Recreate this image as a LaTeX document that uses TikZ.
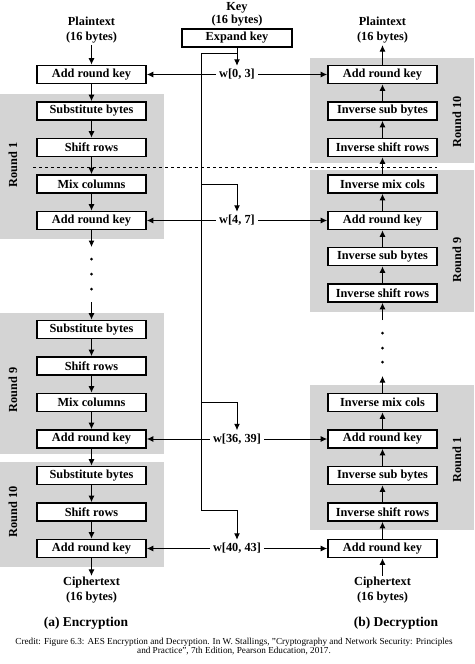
\documentclass[tikz,border=0pt]{standalone}
\usepackage{fontspec}
\setmainfont{Liberation Serif}
\usetikzlibrary{arrows.meta}

\begin{document}
\begin{tikzpicture}[x=1pt,y=-1pt,line width=1pt,>={Latex[length=6.5pt,width=6pt]}]
    \tikzstyle{block}=[draw=black,fill=white,line width=1.6pt,minimum width=109pt,minimum height=18pt,inner sep=0pt,font=\bfseries\fontsize{12.3}{14}\selectfont]
    \tikzstyle{txt}=[align=center,inner sep=1pt,font=\bfseries\fontsize{12.3}{15}\selectfont]
    \tikzstyle{roundbg}=[fill=black!17]
    \tikzstyle{roundlbl}=[rotate=90,font=\bfseries\fontsize{12.3}{14}\selectfont]
    \useasboundingbox (0,0) rectangle (474,664);

    % grey round areas
    \foreach \x/\top/\bot in {0/94/239, 0/313/454, 0/462/567, 310/58/163, 310/170/312, 310/385/530}
        \fill[roundbg] (\x,\top) rectangle (\x+164,\bot);
    \foreach \x/\y/\name in {13/165/Round 1, 13/390/Round 9, 13/512/Round 10, 457/122/Round 10, 457/260/Round 9, 457/460/Round 1}
        \node[roundlbl] at (\x,\y) {\name};

    \draw[dashed,line width=0.8pt] (33,167) -- (437,167);

    % encryption
    \foreach \num/\y/\text in {1/74.5/Add round key, 2/111/Substitute bytes, 3/147.5/Shift rows,
            4/184/Mix columns, 5/220.5/Add round key, 6/329.5/Substitute bytes, 7/366/Shift rows,
            8/402.5/Mix columns, 9/439/Add round key, 10/475.5/Substitute bytes, 11/512/Shift rows,
            12/548.5/Add round key}
        \node[block] (E-\num) at (91.5,\y) {\text};

    % decryption
    \foreach \num/\y/\text in {1/74.5/Add round key, 2/111/Inverse sub bytes, 3/147.5/Inverse shift rows,
            4/184/Inverse mix cols, 5/220.5/Add round key, 6/256.5/Inverse sub bytes, 7/293/Inverse shift rows,
            8/402.5/Inverse mix cols, 9/439/Add round key, 10/475.5/Inverse sub bytes, 11/512/Inverse shift rows,
            12/548.5/Add round key}
        \node[block] (D-\num) at (382.5,\y) {\text};

    \node[txt] (PE) at (91.5,30.5) {Plaintext\\(16 bytes)};
    \node[txt] (PD) at (382.5,30.5) {Plaintext\\(16 bytes)};
    \node[txt] (CE) at (91.5,590.5) {Ciphertext\\(16 bytes)};
    \node[txt] (CD) at (382.5,590.5) {Ciphertext\\(16 bytes)};
    \node[txt,font=\bfseries\fontsize{12.3}{13}\selectfont] (K) at (237,14.5) {Key\\(16 bytes)};
    \node[block,minimum width=110pt] (X) at (237,38) {Expand key};

    % round keys
    \foreach \num/\y/\text in {1/74.5/{0, 3}, 5/220.5/{4, 7}, 9/439/{36, 39}, 12/548.5/{40, 43}} {
        \node[txt,inner sep=3pt] (W-\num) at (237,\y) {w[\text]};
        \draw[->] (W-\num) -- (E-\num);
        \draw[->] (W-\num) -- (D-\num);
    }

    \draw[->] (X) -- (W-1);
    \coordinate (J-0) at (237,53);
    \draw (J-0) -- (201,53) -- (201,510) -- (237,510) [->] -- (W-12);
    \foreach \num/\y in {5/184, 9/402}
        \draw[->] (201,\y) -- (237,\y) -- (W-\num);

    % encryption flow
    \draw[->] (PE) -- (E-1);
    \foreach \from/\to in {1/2,2/3,3/4,4/5,6/7,7/8,8/9,9/10,10/11,11/12}
        \draw[->] (E-\from) -- (E-\to);
    \coordinate (EA) at (91.5,247);
    \coordinate (EB) at (91.5,302);
    \draw[->] (E-5) -- (EA);
    \draw[->] (EB) -- (E-6);
    \draw[->] (E-12) -- (CE);
    \foreach \y in {259,274,289}
        \fill (91.5,\y) circle (1.5pt);

    % decryption flow
    \draw[->] (CD) -- (D-12);
    \foreach \from/\to in {12/11,11/10,10/9,9/8,7/6,6/5,5/4,4/3,3/2,2/1}
        \draw[->] (D-\from) -- (D-\to);
    \coordinate (DA) at (382.5,376);
    \coordinate (DB) at (382.5,320);
    \draw[->] (D-8) -- (DA);
    \draw[->] (DB) -- (D-7);
    \draw[->] (D-1) -- (PD);
    \foreach \y in {333,348,362}
        \fill (382.5,\y) circle (1.5pt);

    \node[txt,font=\bfseries\fontsize{13.5}{15}\selectfont] (A) at (86,623) {(a) Encryption};
    \node[txt,font=\bfseries\fontsize{13.5}{15}\selectfont] (B) at (396,623) {(b) Decryption};
    \node[align=center,font=\fontsize{9.2}{9}\selectfont] (C) at (234,646.5) {Credit: Figure 6.3: AES Encryption and Decryption. In W. Stallings, "Cryptography and Network Security: Principles\\and Practice", 7th Edition, Pearson Education, 2017.};
\end{tikzpicture}
\end{document}
